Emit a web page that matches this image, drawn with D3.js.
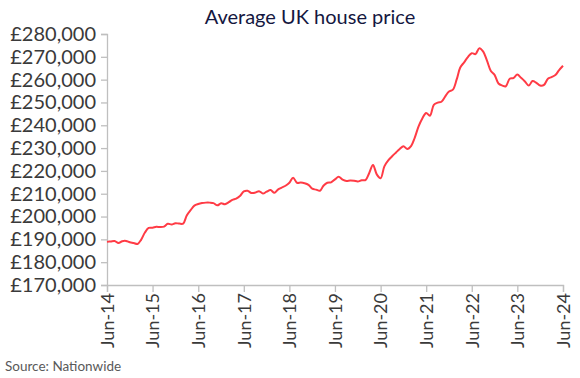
<!DOCTYPE html>
<html><head><meta charset="utf-8">
<script src="https://cdn.jsdelivr.net/npm/d3@7"></script>
<style>
html,body{margin:0;padding:0;background:#fff;}
svg{display:block;}
</style></head>
<body>
<svg id="chart" width="580" height="378"></svg>
<script>
// Monthly Nationwide average price, Jun-2014 .. Jun-2024 (in £)
const startMonth = "2014-06";
const prices = [
188900,189100,189300,188400,189200,189300,188700,188400,188000,189800,193000,195000,
195100,195500,195400,195600,196800,196500,197100,196900,196900,200500,202800,204800,
205500,205900,206100,206100,205900,204900,205800,205400,206300,207300,207900,209000,
211000,211300,210300,210500,211100,210100,210900,211600,210400,211800,212700,213500,
214800,217000,214800,214900,214600,213900,212200,211800,211300,213500,214800,215000,
216300,217400,216200,215600,215800,215700,215400,215900,216000,219000,222600,218500,
216800,222000,224600,226400,228000,229600,230800,229600,231000,234500,239500,243000,
245400,244200,248900,249900,250300,252700,254800,255600,260200,265300,267600,269900,
271600,271200,273800,272300,268300,263800,262100,258300,257400,257100,260400,260700,
262200,260800,259200,257400,259400,258600,257400,257700,260400,261100,262000,264200,
266100
];
const xTickLabels = ["Jun-14","Jun-15","Jun-16","Jun-17","Jun-18","Jun-19","Jun-20","Jun-21","Jun-22","Jun-23","Jun-24"];
const yTicks = [170000,180000,190000,200000,210000,220000,230000,240000,250000,260000,270000,280000];
const titleText = "Average UK house price";
const sourceText = "Source: Nationwide";

const parse = d3.timeParse("%Y-%m");
const t0 = parse(startMonth);
const data = prices.map((v,i)=>({date:d3.timeMonth.offset(t0,i), value:v}));
const tickDates = xTickLabels.map((s,i)=>d3.timeMonth.offset(t0,i*12));

const svg = d3.select("#chart");
const m = {left:107, right:17, top:34, bottom:93};
const W = 580, H = 378;

const x = d3.scaleTime().domain([tickDates[0], tickDates[tickDates.length-1]]).range([m.left, W - m.right]);
const y = d3.scaleLinear().domain([170000, 280000]).range([H - m.bottom, m.top]);

const fontFam = "Lato, 'Open Sans', sans-serif";

svg.append("text")
  .attr("x", 310).attr("y", 24)
  .attr("text-anchor","middle")
  .attr("font-family", fontFam)
  .attr("font-size", 20)
  .attr("fill", "#14173f")
  .text(titleText);

// Y axis
const yAxis = d3.axisLeft(y).tickValues(yTicks).tickSize(6).tickPadding(5)
  .tickFormat(d => "£" + d3.format(",")(d));
const gy = svg.append("g").attr("transform", `translate(${m.left},0)`).call(yAxis);
gy.select(".domain").attr("stroke","#bfbfbf").attr("stroke-width",1.3);
gy.selectAll(".tick line").attr("stroke","#bfbfbf").attr("stroke-width",1.3);
gy.selectAll(".tick text").attr("font-family", fontFam).attr("font-size", 20).attr("fill","#3a3a3a");

// X axis
const xAxis = d3.axisBottom(x).tickValues(tickDates).tickSize(7).tickPadding(4)
  .tickFormat((d,i)=>xTickLabels[i]);
const gx = svg.append("g").attr("transform", `translate(0,${H - m.bottom})`).call(xAxis);
gx.select(".domain").attr("stroke","#bfbfbf").attr("stroke-width",1.3);
gx.selectAll(".tick line").attr("stroke","#bfbfbf").attr("stroke-width",1.3);
gx.selectAll(".tick text")
  .attr("font-family", fontFam).attr("font-size", 18).attr("fill","#3a3a3a")
  .attr("text-anchor","end")
  .attr("transform","rotate(-90)")
  .attr("x",-8).attr("y",0).attr("dy","0.35em");

// Line
const line = d3.line().x(d=>x(d.date)).y(d=>y(d.value)).curve(d3.curveCatmullRom.alpha(0.5));
svg.append("path").datum(data)
  .attr("d", line)
  .attr("fill","none")
  .attr("stroke","#ff3b45")
  .attr("stroke-width",2)
  .attr("stroke-linejoin","round");

svg.append("text")
  .attr("x", 5).attr("y", 371)
  .attr("font-family", fontFam)
  .attr("font-size", 13.5)
  .attr("fill","#595959")
  .text(sourceText);
</script>
</body></html>
